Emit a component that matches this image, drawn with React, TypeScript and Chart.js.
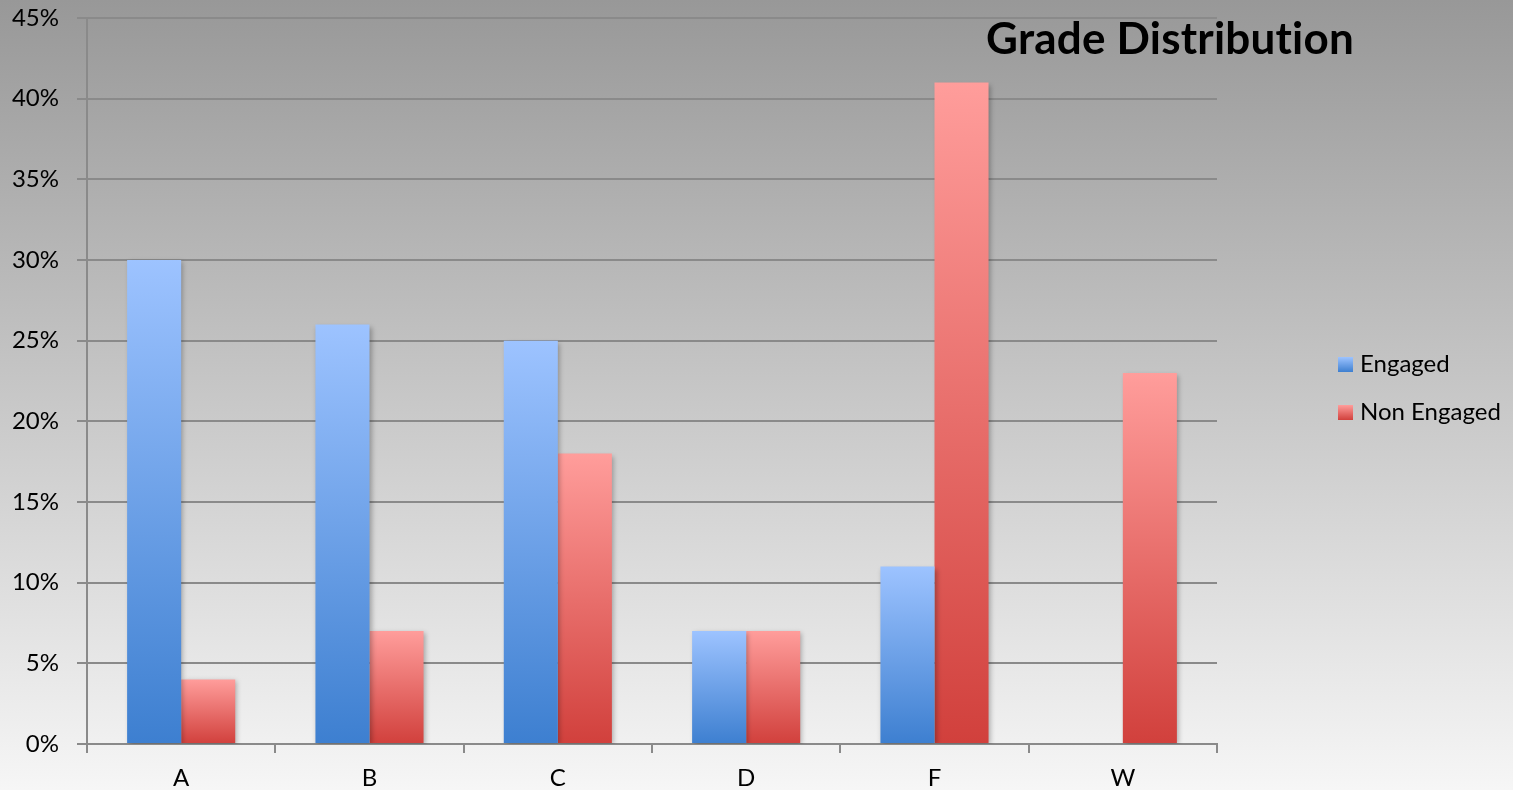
import React, { useEffect, useRef } from "react";
import { Chart, registerables } from "chart.js";

Chart.register(...registerables);

const categories = ["A", "B", "C", "D", "F", "W"];
const engaged = [30, 26, 25, 7, 11, 0];
const nonEngaged = [4, 7, 18, 7, 41, 23];
const seriesNames = ["Engaged", "Non Engaged"];
const titleText = "Grade Distribution";
const yMax = 45;
const yStep = 5;

const FONT = "Lato, 'Open Sans', sans-serif";
const engagedColors = ["#9dc3ff", "#3d7fd0"];
const nonEngagedColors = ["#ff9d9b", "#d1403c"];

function barGradient(colors: string[]) {
  return (ctx: any) => {
    const chart = ctx.chart;
    if (!chart.chartArea || ctx.type !== "data") return colors[1];
    const y = chart.scales.y;
    const top = y.getPixelForValue(ctx.raw);
    const base = y.getPixelForValue(0);
    if (!isFinite(top) || Math.abs(base - top) < 1) return colors[1];
    const g = chart.ctx.createLinearGradient(0, top, 0, base);
    g.addColorStop(0, colors[0]);
    g.addColorStop(1, colors[1]);
    return g;
  };
}

const backgroundPlugin = {
  id: "bgGradient",
  beforeDraw(chart: any) {
    const { ctx, width, height } = chart;
    ctx.save();
    const g = ctx.createLinearGradient(0, 0, 0, height);
    g.addColorStop(0, "#989898");
    g.addColorStop(1, "#f6f6f6");
    ctx.fillStyle = g;
    ctx.fillRect(0, 0, width, height);
    ctx.restore();
  },
};

const shadowPlugin = {
  id: "barShadow",
  beforeDatasetsDraw(chart: any) {
    const ctx = chart.ctx;
    ctx.save();
    ctx.shadowColor = "rgba(0,0,0,0.28)";
    ctx.shadowBlur = 5;
    ctx.shadowOffsetX = 2;
    ctx.shadowOffsetY = 2;
  },
  afterDatasetsDraw(chart: any) {
    chart.ctx.restore();
  },
};

const overlayPlugin = {
  id: "titleLegend",
  afterDraw(chart: any) {
    const ctx = chart.ctx;
    ctx.save();
    ctx.fillStyle = "#000";
    ctx.font = `bold 44px ${FONT}`;
    (ctx as any).letterSpacing = "0.2px";
    ctx.textAlign = "center";
    ctx.textBaseline = "alphabetic";
    ctx.fillText(titleText, 1170, 54);
    (ctx as any).letterSpacing = "0px";

    const items = [
      { label: seriesNames[0], colors: engagedColors, y: 364 },
      { label: seriesNames[1], colors: nonEngagedColors, y: 412 },
    ];
    ctx.font = `24px ${FONT}`;
    ctx.textAlign = "left";
    ctx.textBaseline = "middle";
    for (const it of items) {
      const g = ctx.createLinearGradient(0, it.y - 7, 0, it.y + 8);
      g.addColorStop(0, it.colors[0]);
      g.addColorStop(1, it.colors[1]);
      ctx.fillStyle = g;
      ctx.fillRect(1338, it.y - 7, 15, 15);
      ctx.fillStyle = "#000";
      ctx.fillText(it.label, 1360, it.y);
    }
    ctx.restore();
  },
};

export default function App() {
  const ref = useRef<HTMLCanvasElement | null>(null);

  useEffect(() => {
    document.body.style.margin = "0";
    document.body.style.overflow = "hidden";
    if (!ref.current) return;
    const chart = new Chart(ref.current, {
      type: "bar",
      data: {
        labels: categories,
        datasets: [
          {
            label: seriesNames[0],
            data: engaged,
            backgroundColor: barGradient(engagedColors),
            borderWidth: 0,
          },
          {
            label: seriesNames[1],
            data: nonEngaged,
            backgroundColor: barGradient(nonEngagedColors),
            borderWidth: 0,
          },
        ],
      },
      options: {
        responsive: false,
        animation: false,
        devicePixelRatio: 1,
        layout: { padding: { left: 0, top: 18, right: 296, bottom: 0 } },
        datasets: {
          bar: { categoryPercentage: 0.574, barPercentage: 1.0 },
        },
        plugins: {
          legend: { display: false },
          title: { display: false },
          tooltip: { enabled: false },
        },
        scales: {
          x: {
            offset: true,
            grid: {
              offset: true,
              drawOnChartArea: false,
              drawTicks: true,
              tickLength: 9,
              color: "#8a8a8a",
              lineWidth: 2,
            },
            border: { display: true, color: "#8a8a8a", width: 2 },
            ticks: {
              color: "#000",
              font: { family: FONT, size: 24 },
              padding: 11,
            },
            afterFit(scale: any) {
              scale.height = 46;
              scale.paddingLeft = 0;
              scale.paddingRight = 0;
            },
          },
          y: {
            min: 0,
            max: yMax,
            grid: {
              color: "#8a8a8a",
              lineWidth: 2,
              tickLength: 10,
            },
            border: { display: true, color: "#8a8a8a", width: 2 },
            ticks: {
              stepSize: yStep,
              color: "#000",
              font: { family: FONT, size: 24 },
              padding: 18,
              callback: (v: any) => `${v}%`,
            },
            afterFit(scale: any) {
              scale.width = 87;
              scale.paddingTop = 0;
              scale.paddingBottom = 0;
            },
          },
        },
      },
      plugins: [backgroundPlugin, shadowPlugin, overlayPlugin],
    });
    return () => chart.destroy();
  }, []);

  return (
    <div style={{ width: 1513, height: 790, overflow: "hidden" }}>
      <canvas ref={ref} width={1513} height={790} style={{ display: "block" }} />
    </div>
  );
}
